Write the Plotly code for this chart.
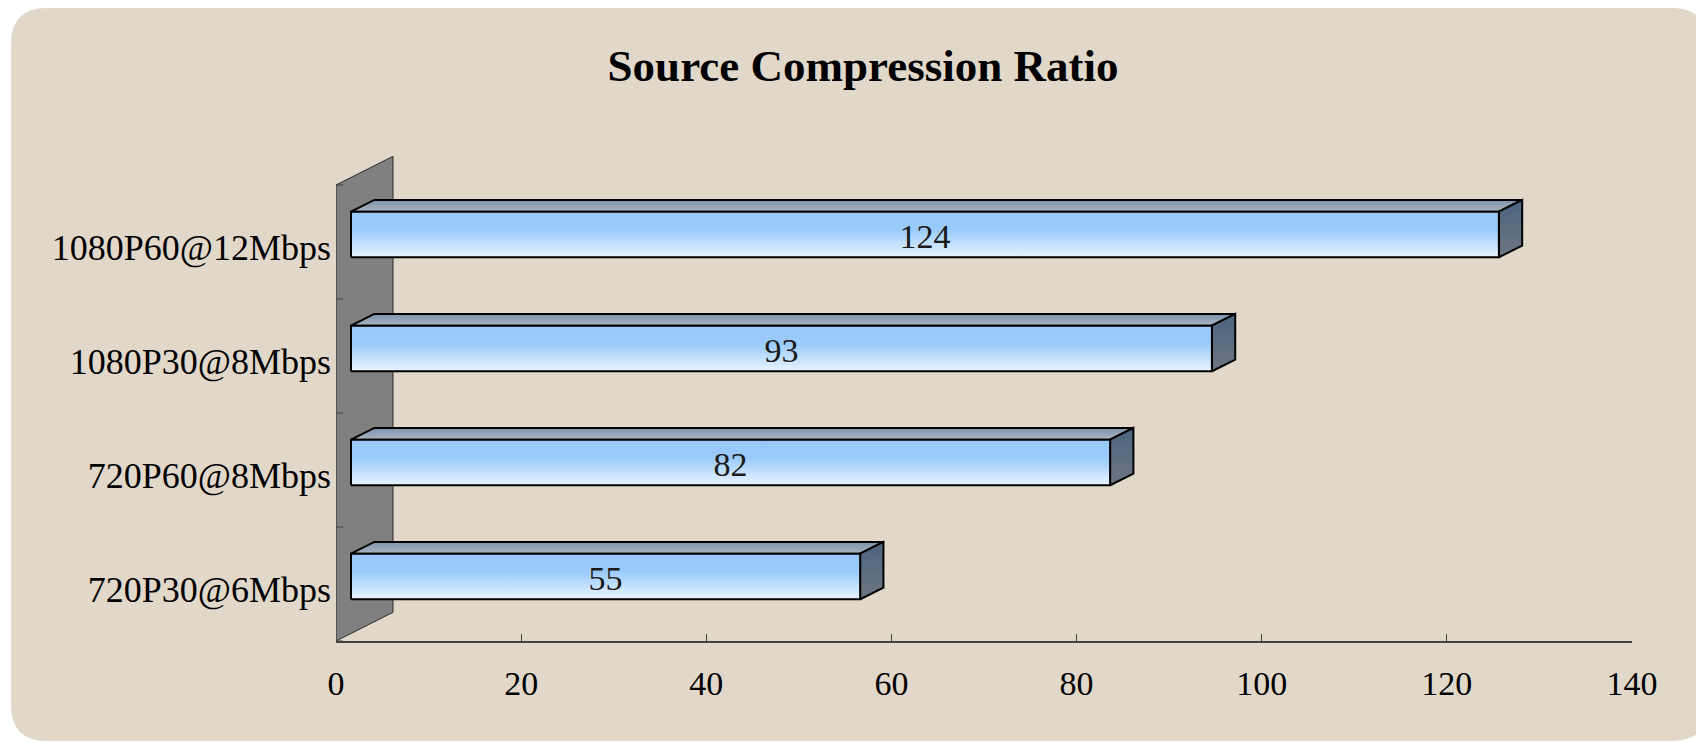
import plotly.graph_objects as go

# ---------------- data ----------------
categories = ["720P30@6Mbps", "720P60@8Mbps", "1080P30@8Mbps", "1080P60@12Mbps"]
ratios = [55, 82, 93, 124]
x_ticks = [0, 20, 40, 60, 80, 100, 120, 140]
title_text = "Source Compression Ratio"

# ---------------- layout geometry (pixels) ----------------
W, H = 1704, 742
L, R, T, B = 328, 80, 142, 109
PW, PH = W - L - R, H - T - B
X_MIN, X_MAX = 0, 140
BAND_PX = 114.0
Y_MIN = -0.5
Y_MAX = Y_MIN + PH / BAND_PX
PX_PER_X = PW / (X_MAX - X_MIN)

# 3D depth of the side wall (pixels -> data units)
WALL_DX = 57 / PX_PER_X
WALL_DY = 28.7 / BAND_PX
FRONT_FRAC = 15 / 57
BACK_FRAC = 38.3 / 57
HALF_H = 0.2
LABEL_DROP = 5 / BAND_PX   # text baseline nudge

FONT = "Liberation Serif"

fig = go.Figure()

# side wall
n = len(categories)
y_lo, y_hi = Y_MIN, Y_MIN + n
fig.add_trace(go.Scatter(
    x=[0, 0, WALL_DX, WALL_DX, 0],
    y=[y_lo, y_hi, y_hi + WALL_DY, y_lo + WALL_DY, y_lo],
    mode="lines", fill="toself", fillcolor="#808080",
    line=dict(color="#2a2a2a", width=1), hoverinfo="skip", showlegend=False))

# wall tick marks at category boundaries
tx, ty = [], []
for k in range(n + 1):
    yb = Y_MIN + k
    tx += [0, 7 / PX_PER_X, None]
    ty += [yb, yb, None]
fig.add_trace(go.Scatter(x=tx, y=ty, mode="lines",
                         line=dict(color="#404040", width=1),
                         hoverinfo="skip", showlegend=False))

fdx, fdy = FRONT_FRAC * WALL_DX, FRONT_FRAC * WALL_DY
ddx = (BACK_FRAC - FRONT_FRAC) * WALL_DX
ddy = (BACK_FRAC - FRONT_FRAC) * WALL_DY

front_scale = [[0, "#E9F4FF"], [0.6, "#9BCBFA"], [1, "#97C8F8"]]
top_scale = [[0, "#A9B4BF"], [1, "#7C93AD"]]
side_scale = [[0, "#6E7680"], [1, "#4B6480"]]

for i, v in enumerate(ratios):
    x0, x1 = fdx, v + fdx
    yc = i + fdy
    yb, yt = yc - HALF_H, yc + HALF_H
    # top face
    fig.add_trace(go.Scatter(
        x=[x0, x1, x1 + ddx, x0 + ddx, x0],
        y=[yt, yt, yt + ddy, yt + ddy, yt],
        mode="lines", fill="toself",
        fillgradient=dict(type="vertical", colorscale=top_scale),
        line=dict(color="black", width=2), hoverinfo="skip", showlegend=False))
    # right face
    fig.add_trace(go.Scatter(
        x=[x1, x1 + ddx, x1 + ddx, x1, x1],
        y=[yb, yb + ddy, yt + ddy, yt, yb],
        mode="lines", fill="toself",
        fillgradient=dict(type="vertical", colorscale=side_scale),
        line=dict(color="black", width=2), hoverinfo="skip", showlegend=False))
    # front face
    fig.add_trace(go.Scatter(
        x=[x0, x1, x1, x0, x0],
        y=[yb, yb, yt, yt, yb],
        mode="lines", fill="toself",
        fillgradient=dict(type="vertical", colorscale=front_scale),
        line=dict(color="black", width=2), name=categories[i],
        hovertemplate=f"{categories[i]}: {v}<extra></extra>", showlegend=False))

# data labels
fig.add_trace(go.Scatter(
    x=[v / 2 + fdx for v in ratios],
    y=[i + fdy - LABEL_DROP for i in range(n)],
    text=[str(v) for v in ratios], mode="text",
    textfont=dict(family=FONT, size=34, color="#1a1a1a"),
    hoverinfo="skip", showlegend=False))

# background rounded rectangle (in paper coords)
def px2paper(px, py):
    return (px - L) / PW, (H - B - py) / PH

def P(px, py):
    a, b = px2paper(px, py)
    return f"{a:.5f},{b:.5f}"

bx0, by0, bx1, by1, rr = 3, 0, 1700, 733, 36
path = (f"M {P(bx0 + rr, by0)} L {P(bx1 - rr, by0)} Q {P(bx1, by0)} {P(bx1, by0 + rr)} "
        f"L {P(bx1, by1 - rr)} Q {P(bx1, by1)} {P(bx1 - rr, by1)} "
        f"L {P(bx0 + rr, by1)} Q {P(bx0, by1)} {P(bx0, by1 - rr)} "
        f"L {P(bx0, by0 + rr)} Q {P(bx0, by0)} {P(bx0 + rr, by0)} Z")

fig.update_layout(
    width=W, height=H,
    margin=dict(l=L, r=R, t=T, b=B, pad=0),
    paper_bgcolor="white", plot_bgcolor="rgba(0,0,0,0)",
    shapes=[dict(type="path", xref="paper", yref="paper", path=path,
                 fillcolor="#E1D8CA", line=dict(width=0), layer="below")],
    title=dict(text=f"<b>{title_text}</b>", x=855 / W, xanchor="center",
               y=1 - 57 / H, yanchor="middle",
               font=dict(family=FONT, size=45, color="black")),
    xaxis=dict(range=[X_MIN, X_MAX], tickvals=x_ticks,
               showline=True, linecolor="#404040", linewidth=1.5,
               ticks="inside", ticklen=7, tickcolor="#404040", tickwidth=1,
               showgrid=False, zeroline=False, ticklabelstandoff=11,
               tickfont=dict(family=FONT, size=34, color="black")),
    yaxis=dict(range=[Y_MIN, Y_MAX], tickvals=[i - LABEL_DROP for i in range(n)],
               ticktext=categories,
               showline=False, ticks="", showgrid=False, zeroline=False,
               ticklabelstandoff=4,
               tickfont=dict(family=FONT, size=36, color="black")),
    showlegend=False,
)

fig.write_html("out.html")
